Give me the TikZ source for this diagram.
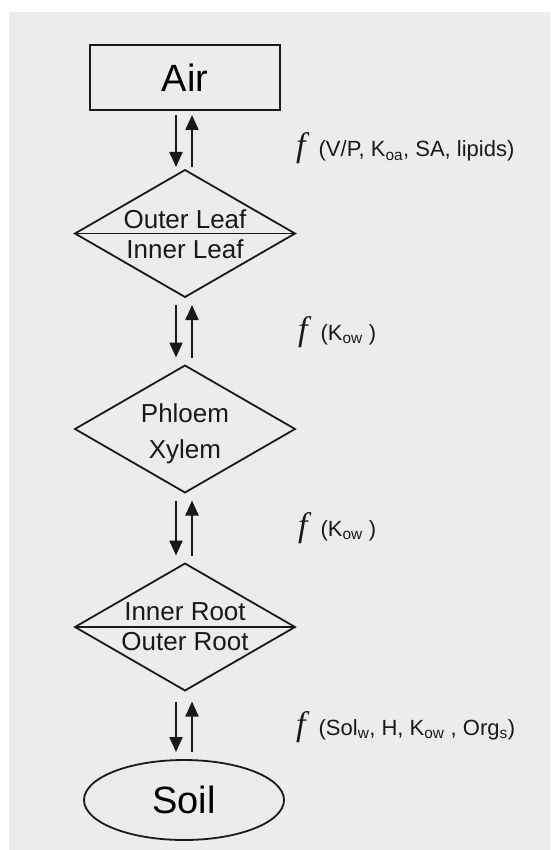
\documentclass[tikz,border=0pt]{standalone}
\usepackage{fontspec}
\setmainfont{Liberation Sans}
\newfontfamily\serifit{Liberation Serif}
\usetikzlibrary{shapes.geometric,arrows.meta}
\definecolor{paper}{RGB}{236,236,236}
\definecolor{ink}{RGB}{25,25,25}
\begin{document}
\begin{tikzpicture}[x=1pt,y=-1pt,
  shapeline/.style={draw=ink,line width=1.8pt},
  airbox/.style={shapeline,rectangle,minimum width=190pt,minimum height=65pt,
    inner sep=0pt,outer sep=0pt,font=\fontsize{38}{40}\selectfont},
  organ/.style={shapeline,diamond,minimum width=220pt,minimum height=127pt,
    inner sep=0pt,outer sep=0pt},
  soilpool/.style={shapeline,ellipse,minimum width=200pt,minimum height=80pt,
    inner sep=0pt,outer sep=0pt,font=\fontsize{38}{40}\selectfont},
  organtext/.style={anchor=base,inner sep=0pt,text=ink,font=\fontsize{26}{28}\selectfont},
  flow/.style={draw=ink,line width=2pt,-{Triangle[width=13pt,length=15pt]}},
  ratelabel/.style={anchor=base west,inner sep=0pt,text=ink,font=\fontsize{22}{24}\selectfont}
]
% page and scanned paper tone
\path[use as bounding box] (0,0) rectangle (550,850);
\fill[white] (0,0) rectangle (550,850);
\fill[paper] (9,12) rectangle (550,850);

\newcommand{\fsym}{{\serifit\itshape\fontsize{34}{34}\selectfont f}\hspace{13pt}}

% compartments
\node[airbox] (air) at (185,77.5) {Air};

\node[organ] (leaf) at (185,233.5) {};
\draw[shapeline] (leaf.west) -- (leaf.east);
\node[organtext] at ([yshift=5pt]leaf.center) {Outer Leaf};
\node[organtext] at ([yshift=-25pt]leaf.center) {Inner Leaf};

\node[organ] (stem) at (185,429) {};
\node[organtext] at ([yshift=7pt]stem.center) {Phloem};
\node[organtext] at ([yshift=-29pt]stem.center) {Xylem};

\node[organ] (root) at (185,627) {};
\draw[shapeline] (root.west) -- (root.east);
\node[organtext] at ([yshift=7pt]root.center) {Inner Root};
\node[organtext] at ([yshift=-23pt]root.center) {Outer Root};

\node[soilpool] (soil) at (184,800) {Soil};

% exchange arrows
\draw[flow] ([xshift=-9pt,yshift=-5pt]air.south) -- ([xshift=-9pt,yshift=3pt]leaf.north);
\draw[flow] ([xshift=7pt,yshift=3pt]leaf.north) -- ([xshift=7pt,yshift=-5pt]air.south);

\draw[flow] ([xshift=-9pt,yshift=-8pt]leaf.south) -- ([xshift=-9pt,yshift=8pt]stem.north);
\draw[flow] ([xshift=7pt,yshift=8pt]stem.north) -- ([xshift=7pt,yshift=-8pt]leaf.south);

\draw[flow] ([xshift=-9pt,yshift=-8pt]stem.south) -- ([xshift=-9pt,yshift=8pt]root.north);
\draw[flow] ([xshift=7pt,yshift=8pt]root.north) -- ([xshift=7pt,yshift=-8pt]stem.south);

\draw[flow] ([xshift=-9pt,yshift=-11pt]root.south) -- ([xshift=-8pt,yshift=8pt]soil.north);
\draw[flow] ([xshift=8pt,yshift=8pt]soil.north) -- ([xshift=7pt,yshift=-11pt]root.south);

% rate dependencies
\node[ratelabel] (r1) at (296,157) {\fsym(V/P, K\textsubscript{oa}, SA, lipids)};
\node[ratelabel] (r2) at (298,340) {\fsym(K\textsubscript{ow} )};
\node[ratelabel] (r3) at (298,536) {\fsym(K\textsubscript{ow} )};
\node[ratelabel] (r4) at (296,735) {\fsym(Sol\textsubscript{w}, H, K\textsubscript{ow} , Org\textsubscript{s})};
\end{tikzpicture}
\end{document}
